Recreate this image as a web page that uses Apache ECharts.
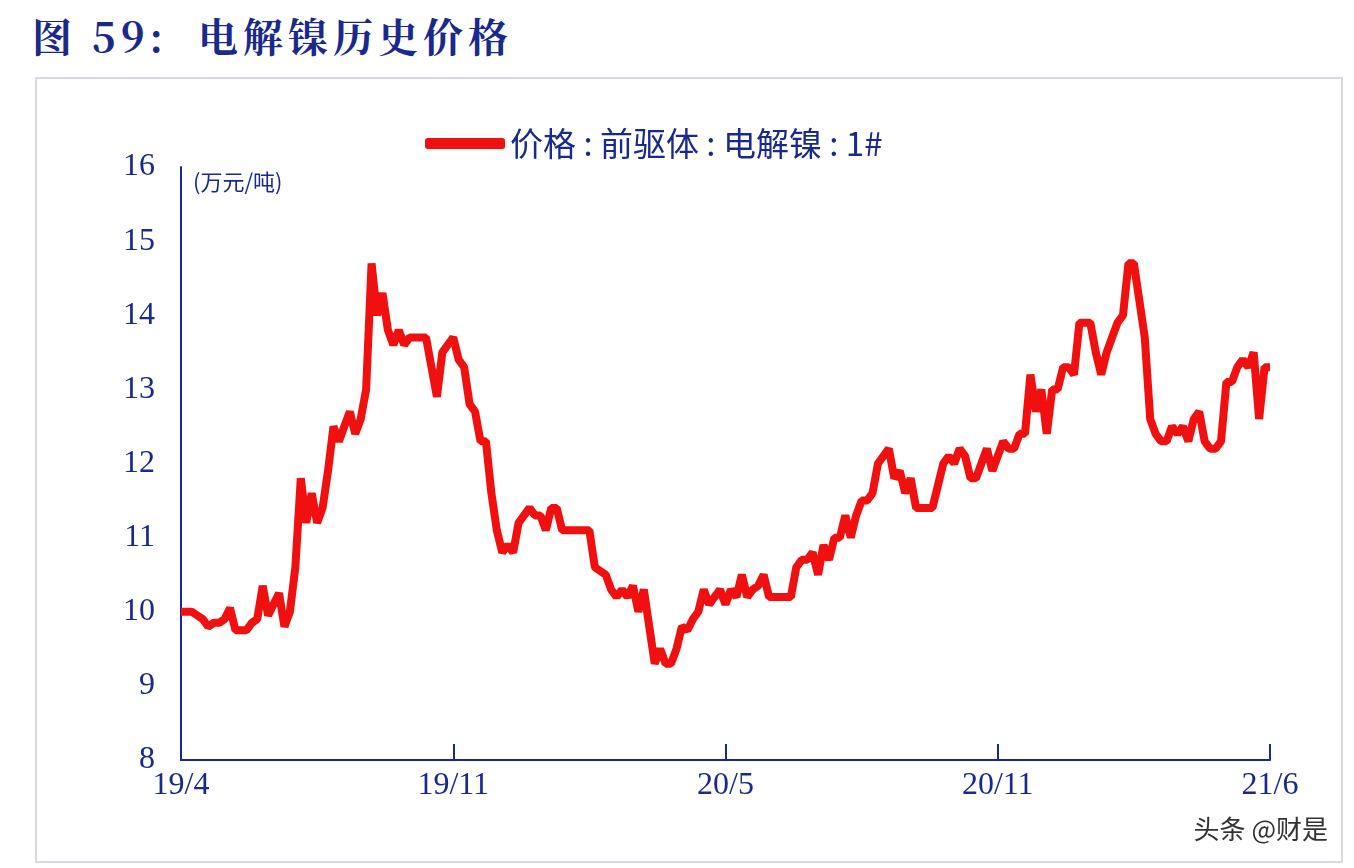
<!DOCTYPE html>
<html>
<head>
<meta charset="utf-8">
<script src="https://cdn.jsdelivr.net/npm/echarts@6/dist/echarts.min.js"></script>
<style>
  html, body {margin: 0; padding: 0; background: #fff;}
  #title {position: absolute; left: 32px; top: 6px; font: bold 40px "Noto Serif CJK SC", "Noto Sans CJK SC", serif; color: #1a2a8c; letter-spacing: 5px;}
  #box {position: absolute; left: 35px; top: 77px; width: 1304px; height: 782px; border: 2px solid #d8d8e0;}
  #chart {position: absolute; left: 0; top: 0; width: 1354px; height: 868px;}
</style>
</head>
<body>
<div id="title">图 59:&nbsp; 电解镍历史价格</div>
<div id="box"></div>
<div id="chart"></div>
<script>
// 电解镍价格(万元/吨),等间距采样
const prices = [
  10.0, 10.0, 10.0, 9.95, 9.9, 9.8, 9.85, 9.85, 9.9, 10.05,
  9.75, 9.75, 9.75, 9.85, 9.9, 10.35, 9.95, 10.1, 10.25, 9.8,
  10.0, 10.6, 11.8, 11.2, 11.6, 11.2, 11.4, 11.9, 12.5, 12.3,
  12.5, 12.7, 12.4, 12.6, 13.0, 14.7, 14.0, 14.3, 13.8, 13.6,
  13.8, 13.6, 13.7, 13.7, 13.7, 13.7, 13.3, 12.9, 13.5, 13.6,
  13.7, 13.4, 13.3, 12.8, 12.7, 12.3, 12.3, 11.6, 11.1, 10.8,
  10.9, 10.8, 11.2, 11.3, 11.4, 11.3, 11.3, 11.1, 11.4, 11.4,
  11.1, 11.1, 11.1, 11.1, 11.1, 11.1, 10.6, 10.55, 10.5, 10.3,
  10.2, 10.3, 10.2, 10.35, 10.0, 10.3, 9.8, 9.3, 9.5, 9.3,
  9.3, 9.5, 9.8, 9.75, 9.9, 10.0, 10.3, 10.1, 10.2, 10.3,
  10.1, 10.3, 10.2, 10.5, 10.2, 10.3, 10.35, 10.5, 10.2, 10.2,
  10.2, 10.2, 10.2, 10.6, 10.7, 10.7, 10.8, 10.5, 10.9, 10.7,
  11.0, 11.0, 11.3, 11.0, 11.3, 11.5, 11.5, 11.6, 12.0, 12.1,
  12.2, 11.8, 11.9, 11.6, 11.8, 11.4, 11.4, 11.4, 11.4, 11.7,
  12.0, 12.1, 12.0, 12.2, 12.1, 11.8, 11.8, 12.0, 12.2, 11.9,
  12.1, 12.3, 12.2, 12.2, 12.4, 12.4, 13.2, 12.7, 13.0, 12.4,
  13.0, 13.0, 13.3, 13.3, 13.2, 13.9, 13.9, 13.9, 13.5, 13.2,
  13.5, 13.7, 13.9, 14.0, 14.7, 14.7, 14.2, 13.7, 12.6, 12.4,
  12.3, 12.3, 12.5, 12.4, 12.5, 12.3, 12.6, 12.7, 12.3, 12.2,
  12.2, 12.3, 13.1, 13.1, 13.3, 13.4, 13.3, 13.5, 12.6, 13.3,
  13.3
];
const tickLabels = {0: '19/4', 50: '19/11', 100: '20/5', 150: '20/11', 200: '21/6'};
const categories = prices.map((v, i) => String(i));

const axisColor = '#1a2a8c';
const chart = echarts.init(document.getElementById('chart'));
chart.setOption({
  animation: false,
  legend: {
    top: 122,
    left: 420,
    itemWidth: 80,
    itemHeight: 11,
    itemGap: 8,
    textStyle: {fontSize: 33, color: '#1a2a8c', fontFamily: 'Noto Sans CJK SC', letterSpacing: 1.5},
    data: [{name: '价格 : 前驱体 : 电解镍 : 1#', icon: 'roundRect'}]
  },
  grid: {left: 181, right: 84, top: 167, bottom: 108},
  xAxis: {
    type: 'category',
    boundaryGap: false,
    data: categories,
    axisLine: {lineStyle: {color: axisColor, width: 2}},
    axisTick: {
      inside: true, length: 16,
      interval: (i) => i in tickLabels,
      lineStyle: {color: axisColor, width: 2}
    },
    axisLabel: {
      interval: (i) => i in tickLabels,
      formatter: (v, i) => tickLabels[i] || '',
      color: axisColor, fontSize: 32, fontFamily: 'Liberation Serif', margin: 10
    }
  },
  yAxis: {
    type: 'value',
    min: 8, max: 16, interval: 1,
    name: '(万元/吨)',
    nameLocation: 'end',
    nameGap: -4,
    nameTextStyle: {align: 'left', padding: [0, 0, 0, 12], fontSize: 22, color: '#1a2a8c', fontFamily: 'Noto Sans CJK SC', verticalAlign: 'top'},
    axisLine: {show: true, lineStyle: {color: axisColor, width: 2}},
    axisTick: {show: false},
    splitLine: {show: false},
    axisLabel: {color: axisColor, fontSize: 32, fontFamily: 'Liberation Serif', margin: 26}
  },
  series: [{
    name: '价格 : 前驱体 : 电解镍 : 1#',
    type: 'line',
    data: prices,
    showSymbol: false,
    lineStyle: {color: '#f01010', width: 8},
    itemStyle: {color: '#f01010'}
  }],
  graphic: [{
    type: 'text', right: 26, bottom: 26,
    style: {text: '头条 @财是', fontSize: 26, fill: '#333', fontFamily: 'Noto Sans CJK SC'}
  }]
});
</script>
</body>
</html>
